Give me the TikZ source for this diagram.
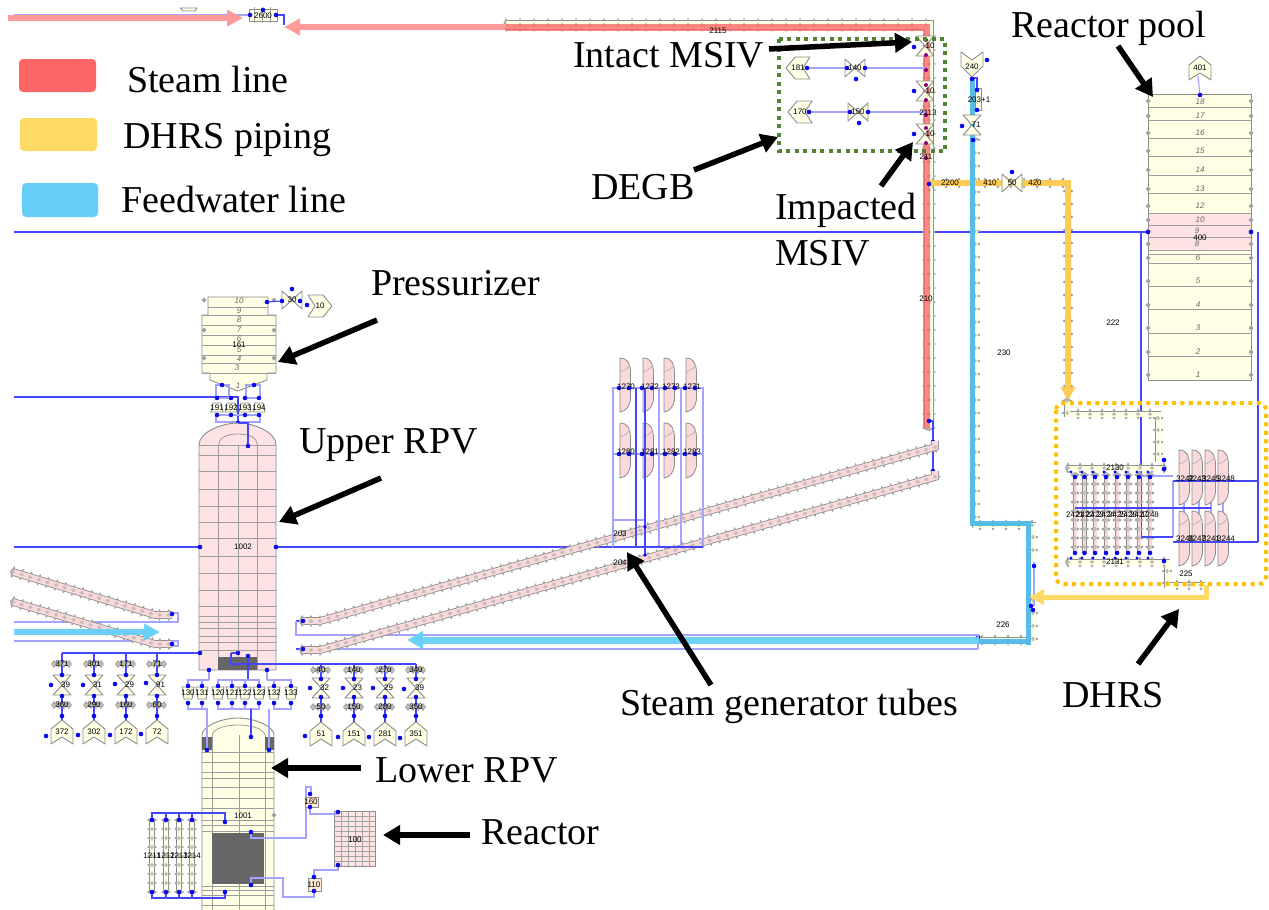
\documentclass[tikz,border=0pt]{standalone}
\usepackage{fontspec}
\setmainfont{Liberation Serif}
\newfontfamily\labfont{Liberation Sans}
\usetikzlibrary{arrows.meta,decorations.markings}
\definecolor{wirec}{HTML}{4646FF}
\definecolor{wirel}{HTML}{A4A4FF}
\definecolor{dotc}{HTML}{0A0AE8}
\definecolor{pg}{HTML}{8C8C8C}
\definecolor{dg}{HTML}{A0A0A0}
\definecolor{inner}{HTML}{C4C0B8}
\definecolor{cream}{HTML}{FFFFE6}
\definecolor{pinkf}{HTML}{FDE3E3}
\definecolor{pinkm}{HTML}{F9D9D9}
\definecolor{darkb}{HTML}{666666}
\definecolor{legred}{HTML}{FF6666}
\definecolor{legyel}{HTML}{FFD966}
\definecolor{legblu}{HTML}{66CFF8}
\definecolor{feedb}{HTML}{56BCE8}
\definecolor{arrpink}{HTML}{FF9A9A}
\definecolor{dgreen}{HTML}{548235}
\definecolor{dyel}{HTML}{FFC000}
\newcount\lc
\tikzset{
 wire/.style={draw=wirec,line width=1.1pt},
 wirethin/.style={draw=wirel,line width=1.1pt},
 wirebold/.style={draw=wirec,line width=1.5pt},
 lab/.style={font=\labfont\fontsize{8}{8}\selectfont,text=black,inner sep=0pt},
 rowlab/.style={font=\labfont\itshape\fontsize{8}{8}\selectfont,text=black!60,inner sep=0pt},
 eqp/.style={draw=pg,fill=cream,line width=0.9pt,line join=round},
 grid/.style={draw=pg!85,line width=0.8pt},
 leg/.style={rounded corners=4pt,draw=none},
 big/.style={font=\fontsize{38}{40}\selectfont,inner sep=0pt,anchor=base west},
 blk/.style={draw=black,line width=5.5pt,-{Triangle[length=17pt,width=19pt]}},
 mk/.style 2 args={postaction={decorate,decoration={markings,mark=between positions 0 and 1 step #1 with {\fill[dg] (-3,0)--(0,-#2)--(3,0)--(0,#2)--cycle;}}}},
 tk/.style={postaction={decorate,decoration={markings,mark=between positions 0 and 1 step #1 with {\fill[inner] (-2.4,0)--(0,-2)--(2.4,0)--(0,2)--cycle;}}}},
}
\newcommand{\lb}[3]{\global\advance\lc by 1 \node[lab] (l\the\lc) at (#1,#2) {#3};}
\newcommand{\rl}[3]{\global\advance\lc by 1 \node[rowlab] (l\the\lc) at (#1,#2) {#3};}
\newcommand{\dts}[1]{\foreach \p/\q in {#1}{\fill[dotc] (\p,\q) circle (2.3pt);}}
\newcommand{\pipe}[4][12pt]{%
 \pgfmathsetmacro{\hh}{#2/2+3.2}%
 \draw[mk={#1}{\hh},line width={#2pt+1.6pt},pg] #4;
 \draw[tk=#1,line width=#2pt,#3] #4;}
\newcommand{\chev}[4]{\filldraw[eqp,shift={(#1,#2)},rotate=#3] (0,-12)--(11,-3)--(11,12)--(0,5)--(-11,12)--(-11,-3)--cycle; \lb{#1}{#2}{#4}}
\newcommand{\valv}[4]{\filldraw[eqp,shift={(#1,#2)},rotate=#3] (-9,-10)--(9,-10)--(0,0)--(9,10)--(-9,10)--(0,0)--cycle; \lb{#1}{#2}{#4}}
\newcommand{\leaf}[4]{\filldraw[draw=pg,fill=pinkm,line width=0.8pt] (#1,#2) .. controls (#1+8,#2) and (#1+10,#2+6) .. (#1+10.5,#2+14) -- (#1+10.5,#2+#4-12) .. controls (#1+9,#2+#4-5) and (#1+6,#2+#4-1) .. (#1,#2+#4) -- cycle;
 \draw[draw=pg!70,line width=0.6pt] (#1,#2+14) .. controls (#1+4,#2+13) and (#1+8,#2+10) .. (#1+10,#2+7);}
\newcommand{\tri}[3]{\filldraw[eqp,shift={(#1,#2)}] (-6,-6)--(6,-6)--(4,6)--(-4,6)--cycle; \lb{#1}{#2}{#3}}
\newcommand{\blob}[3]{\pipe[5pt]{1.5}{dg}{(#1-8,#2)--(#1+8,#2)} \lb{#1}{#2}{#3}}
\begin{document}
\begin{tikzpicture}[x=1pt,y=-1pt]
\useasboundingbox (0,0) rectangle (1269,910);
\fill[white] (0,0) rectangle (1269,910);

% ---------- long wires
\draw[wire] (14,232)--(1252,232);
\draw[wire] (14,397)--(238,397)--(238,423);
\draw[wire] (14,547)--(199,547);
\draw[wire] (276,547)--(613,547);
\draw[wirethin] (14,15)--(250,15);
\draw[wire] (277,15)--(284,15)--(284,25);

% ---------- steam line and header
\pipe[14pt]{8}{cream}{(506,25)--(929,25)--(929,428)}
\draw[line width=7pt,legred,opacity=.78] (506,27)--(926,27)--(926,428);
\draw[-{Triangle[length=16pt,width=16pt]},line width=6pt,arrpink] (505,27)--(284,27);
\draw[-{Triangle[length=16pt,width=16pt]},line width=6pt,arrpink] (8,18)--(243,18);
\draw[wire] (929,421)--(933,421)--(933,472);
\dts{929/421,933/442,933/471}
\filldraw[eqp] (249,9) rectangle (277,21);
\foreach \u in {254,262,270}{\fill[dg] (\u,7) rectangle (\u+1,23);}
\lb{263}{15.5}{2600}
\dts{250/15,276/15,263/10}
\filldraw[eqp] (180,8)--(197,8)--(195,11)--(183,11)--cycle;
\lb{718}{31}{2115}

% ---------- MSIV region
\draw[wirethin] (807,68)--(925,68);
\draw[wirethin] (809,112)--(925,112);
\chev{798}{68}{90}{181}
\chev{800}{112}{90}{170}
\valv{855}{68}{90}{140}
\valv{858}{112}{90}{150}
\dts{807/68,847/68,865/68,856/79,809/112,850/112,868/112,859/123}
\valv{925}{46}{0}{\hspace{10pt}10}
\valv{925}{91}{0}{\hspace{10pt}10}
\valv{925}{134}{0}{\hspace{10pt}10}
\dts{914/47,914/91,914/134}
\foreach \u in {40,55,70,85,100,115,128,143,158}{\fill[purple!70!blue] (926,\u) circle (2pt);}
\lb{928}{113}{2113}
\lb{926}{157}{211}
\lb{926}{299}{210}
\draw[dgreen,line width=4pt,dash pattern=on 4pt off 4.5pt] (779,39) rectangle (945,151);

% ---------- feedwater
\draw[eqp] (961,52)--(972,60)--(983,52)--(983,66)--(972,77)--(961,66)--cycle;
\lb{972}{67}{240}
\pipe[13pt]{5}{cream}{(975,140)--(975,525)--(1033,525)--(1033,562)}
\pipe[13pt]{5}{cream}{(1033,600)--(1033,640)--(975,640)}
\draw[line width=5pt,feedb] (972,78)--(972,523)--(1028,523)--(1028,645);
\draw[wirethin] (1034,562)--(1034,606);
\draw[line width=5pt,feedb] (1031,641)--(978,641);
\draw[wire] (972,78)--(977,78)--(977,110);
\filldraw[eqp] (975,88) rectangle (981,110);
\valv{972}{125}{0}{\hspace{8pt}71}
\lb{979}{100}{203+1}
\dts{972/79,977/90,977/110,962/126,973/140,987/60,1034/566,1031/606,1033/610,978/637}
\lb{1004}{353}{230}
\lb{1003}{625}{226}

% ---------- SG tubes right
\draw[wire] (296,621)--(303,621);
\draw[wirethin] (296,621)--(296,635)--(978,635)--(978,649);
\draw[wirethin] (296,649)--(978,649);
\draw[wire] (296,649)--(303,649);
\pipe[9pt]{6}{pinkm}{(302,621)--(320,621)--(935,447)--(935,441)}
\pipe[9pt]{6}{pinkm}{(302,650)--(320,650)--(935,477)--(935,471)}
\dts{303/621,303/649}
\draw[-{Triangle[length=16pt,width=17pt]},line width=7pt,legblu,opacity=.95] (979,640)--(407,640);

% ---------- SG tubes left
\draw[wirethin] (14,622)--(178,622)--(178,613)--(172,613);
\draw[wirethin] (14,641)--(178,641)--(178,646)--(172,646);
\pipe[9pt]{6}{pinkm}{(13,572)--(155,615)--(172,615)}
\pipe[9pt]{6}{pinkm}{(13,602)--(155,644)--(172,644)}
\dts{172/614,172/644}
\draw[-{Triangle[length=16pt,width=16pt]},line width=6pt,legblu,opacity=.95] (14,632)--(160,632);

% ---------- SG modules
\foreach \u in {620,643,664,686}{\leaf{\u}{358}{30}{54}\leaf{\u}{423}{30}{55}}
\draw[wirethin] (613,388)--(703,388)--(703,547)--(613,547)--cycle;
\draw[wirethin] (613,454)--(703,454);
\foreach \u in {613,659,681,703}{\draw[wirethin] (\u,388)--(\u,547);}
\draw[wirethin] (613,520)--(645,520);
\draw[wire] (636,388)--(636,547);
\draw[wire] (645,388)--(645,555);
\draw[wire] (613,547)--(703,547);
\dts{619/388,629/388,642/388,652/388,665/388,675/388,685/388,695/388,619/454,629/454,642/454,652/454,665/454,675/454,685/454,695/454}
\fill[dotc] (645,527) circle (1.8pt);\fill[dotc] (645,555) circle (1.8pt);
\lb{626}{387}{1270}\lb{650}{387}{1272}\lb{671}{387}{1273}\lb{692}{387}{1271}
\lb{626}{452}{1280}\lb{650}{452}{1281}\lb{671}{452}{1282}\lb{692}{452}{1283}
\lb{620}{534}{203}\lb{620}{563}{204}

% ---------- DHRS supply
\pipe[13pt]{5}{cream}{(933,183)--(1068,183)--(1068,395)}
\draw[line width=6pt,legyel!85!orange] (930,183)--(1068,183);
\draw[-{Triangle[length=14pt,width=14pt]},line width=6pt,legyel!85!orange] (1068,180)--(1068,401);
\draw[line width=5pt,feedb] (972,165)--(972,200);
\valv{1012}{183}{90}{50}
\dts{1012/172,929/184}
\lb{950}{183}{2200}\lb{990}{183}{410}\lb{1035}{183}{420}

% ---------- reactor pool
\chev{1200}{68}{0}{401}
\draw[wirethin] (1198,76)--(1200,95);
\filldraw[eqp,fill=cream] (1148,94) rectangle (1251,380);
\fill[pinkf] (1148,213) rectangle (1251,250);
\draw[pg,line width=1pt] (1148,94) rectangle (1251,380);
\foreach \u in {107,120,138,156,175,193,213,225,237,250,254,263,286,309,333,356}{\draw[grid] (1148,\u)--(1251,\u);}
\foreach \u in {101,116,133,151,170,189,206,220,231,244,258,281,305,328,352,375}{\foreach \s in {1148,1251}{\fill[dg] (\s-2.5,\u)--(\s,\u-2.5)--(\s+2.5,\u)--(\s,\u+2.5)--cycle;}}
\rl{1200}{102}{18}\rl{1200}{116}{17}\rl{1200}{133}{16}\rl{1200}{151}{15}\rl{1200}{170}{14}\rl{1200}{189}{13}\rl{1200}{206}{12}\rl{1200}{220}{10}\rl{1197}{231}{9}\rl{1197}{244}{8}\rl{1198}{258}{6}\rl{1198}{281}{5}\rl{1198}{305}{4}\rl{1198}{328}{3}\rl{1198}{352}{2}\rl{1198}{375}{1}
\lb{1200}{238}{400}
\dts{1200/95,1148/232,1251/232}
\draw[wire] (1141,232)--(1141,537);
\draw[wire] (1258,232)--(1258,542);
\lb{1113}{323}{222}

% ---------- DHRS heat exchanger
\draw[wirethin] (1141,476)--(1173,476);
\draw[wirethin] (1173,481)--(1173,537);
\foreach \u in {1184,1199,1211,1223}{\draw[wirethin] (\u,481)--(\u,537);}
\pipe{5}{cream}{(1067,401)--(1067,414)--(1158,414)--(1158,462)}
\pipe{5}{cream}{(1068,468)--(1165,468)}
\pipe{5}{cream}{(1068,562)--(1167,562)--(1167,585)--(1205,585)}
\foreach \u in {1075,1084.5,1095,1106,1117,1128,1139,1150}{\pipe[9pt]{3}{pinkm}{(\u,475)--(\u,553)}}
\foreach \u in {1179,1192,1205,1218}{\leaf{\u}{450}{30}{55}\leaf{\u}{511}{30}{55}}
\draw[wire] (1141,537)--(1173,537);
\draw[wire] (1173,481)--(1258,481);
\draw[wire] (1173,542)--(1258,542);
\draw[wire] (1075,508)--(1211,508);
\dts{1075/477,1084.5/477,1095/477,1106/477,1117/477,1128/477,1139/477,1150/477,1075/553,1084.5/553,1095/553,1106/553,1117/553,1128/553,1139/553,1150/553,1164/460,1164/469,1164/561}
\foreach \u in {1071,1082,1093,1104,1115,1126,1137,1148}{\fill[dotc] (\u,472) circle (1.6pt);\fill[dotc] (\u,558) circle (1.6pt);}
\lb{1075}{515}{2421}\lb{1085}{515}{2422}\lb{1095}{515}{2423}\lb{1106}{515}{2424}\lb{1117}{515}{2425}\lb{1128}{515}{2426}\lb{1139}{515}{2427}\lb{1150}{515}{1248}
\lb{1115}{468}{2130}\lb{1115}{562}{2131}
\lb{1185}{479}{3242}\lb{1197}{479}{3243}\lb{1211}{479}{3245}\lb{1226}{479}{3248}
\lb{1185}{539}{3246}\lb{1197}{539}{3247}\lb{1211}{539}{3241}\lb{1226}{539}{3244}
\lb{1186}{574}{225}
\draw[-{Triangle[length=15pt,width=15pt]},line width=5pt,legyel] (1206,585)--(1206,597)--(1029,597);
\draw[dyel,line width=4pt,dash pattern=on 4pt off 4.5pt,rounded corners=7pt] (1056,403) rectangle (1266,584);

% ---------- pressurizer
\filldraw[eqp] (208,297)--(268,297)--(268,315)--(276,315)--(276,373)--(267,373)--(267,380)--(238,391)--(210,380)--(210,373)--(202,373)--(202,315)--(208,315)--cycle;
\foreach \u in {307}{\draw[grid] (208,\u)--(268,\u);}
\foreach \u in {315,325,335,345,355,363,373}{\draw[grid] (202,\u)--(276,\u);}
\rl{239}{301}{10}\rl{239}{311}{9}\rl{239}{320}{8}\rl{239}{330}{7}\rl{239}{339}{6}\rl{239}{350}{5}\rl{239}{359}{4}\rl{237}{368}{3}\rl{238}{386}{1}
\lb{239}{345}{161}
\foreach \u in {300,330,358}{\foreach \s in {204,274}{\fill[dg] (\s-2.5,\u)--(\s,\u-2.5)--(\s+2.5,\u)--(\s,\u+2.5)--cycle;}}
\draw[wire] (267,302)--(282,301);
\valv{292}{300}{90}{30}
\chev{320}{306}{-90}{10}
\dts{267/302,282/301,292/289,300/301,307/305}
\draw[wirethin] (216,385) rectangle (229,398);
\draw[wirethin] (246,385) rectangle (260,398);
\draw[wirethin] (216,415) rectangle (260,422);
\foreach \u/\w in {217/191,231/192,245/193,259/194}{\filldraw[eqp,shift={(\u,408)}] (-6,4)--(6,4)--(4,-5)--(-4,-5)--cycle; \lb{\u}{408}{\w}}
\dts{222/385,254/385,217/398,231/398,245/398,259/398,217/415,231/415,245/415,259/415,238/423}

% ---------- upper RPV
\filldraw[eqp,fill=pinkf] (199,670)--(199,445) .. controls (199,432) and (222,423) .. (238,423) .. controls (254,423) and (276,432) .. (276,445)--(276,670)--cycle;
\foreach \u in {445,455,471,489,506,522,538,556,573,590,606,616,622,628,636,642,650}{\draw[grid] (199,\u)--(276,\u);}
\foreach \u in {218.5,238.5,257.5}{\draw[grid] (\u,445)--(\u,670);}
\draw[grid] (218.5,445) .. controls (219,438) and (226,434) .. (238,434) .. controls (250,434) and (257,438) .. (257.5,445);
\fill[darkb] (218,657) rectangle (257,670);
\draw[wire] (238,423)--(248,423)--(248,446);
\lb{243}{547}{1002}
\dts{248/446,200/547,276/547}

% ---------- lower RPV
\filldraw[eqp] (202,910)--(202,735) .. controls (202,726) and (222,718) .. (238,718) .. controls (254,718) and (274,726) .. (274,735)--(274,910);
\foreach \u in {752,762,772,778,787,798,808,820,825,831,886,890,895,905}{\draw[grid] (202,\u)--(274,\u);}
\foreach \u in {212,239,265}{\draw[grid] (\u,735)--(\u,910);}
\draw[grid] (212,735) .. controls (214,728) and (226,725) .. (238,725) .. controls (250,725) and (263,728) .. (265,735);
\fill[darkb] (202,737) rectangle (212,750);
\fill[darkb] (265,737) rectangle (274,750);
\fill[darkb] (212,833) rectangle (264,884);
\lb{243}{816}{1001}
\fill[dg] (271.5,815)--(274,812.5)--(276.5,815)--(274,817.5)--cycle;

% ---------- manifolds around RPV
\draw[wirebold] (62,653)--(200,653);
\draw[wirebold] (231,653)--(238,653);
\draw[wirebold] (231,653)--(231,664)--(416,664);
\draw[wire] (248,656)--(248,680);
\foreach \u/\w in {188/130,202/131,218/120,232/121,245/122,259/123,274/132,291/133}{\tri{\u}{693}{\w}}
\draw[wirethin] (188,686)--(188,680)--(202,680)--(202,686);
\draw[wirethin] (209,670)--(209,680);
\draw[wirethin] (202,680)--(209,680);
\draw[wirethin] (218,686)--(218,680)--(259,680)--(259,686);
\draw[wirethin] (232,680)--(232,686)(245,680)--(245,686);
\draw[wirethin] (267,670)--(267,680);
\draw[wirethin] (267,680)--(291,680)--(291,686);
\draw[wirethin] (274,680)--(274,686);
\draw[wirethin] (188,703)--(188,709)--(207,709)--(207,750);
\draw[wirethin] (202,703)--(202,709);
\draw[wirethin] (218,703)--(218,709)--(259,709)--(259,703);
\draw[wirethin] (232,703)--(232,709)(245,703)--(245,709);
\draw[wire] (251,709)--(251,737);
\draw[wirethin] (274,703)--(274,709)--(291,709)--(291,703);
\draw[wirethin] (269,709)--(269,750);
\dts{188/686,202/686,218/686,232/686,245/686,259/686,274/686,291/686,188/703,202/703,218/703,232/703,245/703,259/703,274/703,291/703,207/750,251/737,269/750,209/670,267/670,248/656,238/653,200/653}

% ---------- valve columns left
\foreach \u/\v/\c/\t/\b in {62/372/39/371/360,94/302/31/301/290,126/172/29/171/160,157/72/91/71/60}{
 \draw[wire] (\u,653)--(\u,720);
 \blob{\u}{664}{\t}
 \blob{\u}{705}{\b}
 \valv{\u}{685}{0}{\hspace{7pt}\c}
 \chev{\u}{732}{0}{\v}
 \dts{\u/675,\u/696,\u/716}
}
\dts{51/685,83/685,115/684,146/683,46/736,78/735,110/735,141/734}
% ---------- valve columns right
\foreach \u/\v/\c/\t/\b in {321/51/32/40/50,354/151/23/140/150,385/281/29/270/280,416/351/39/340/350}{
 \draw[wire] (\u,664)--(\u,722);
 \blob{\u}{670}{\t}
 \blob{\u}{707}{\b}
 \valv{\u}{688}{0}{\hspace{7pt}\c}
 \chev{\u}{734}{0}{\v}
 \dts{\u/679,\u/697,\u/716}
}
\dts{310/688,343/688,373/688,404/689,305/736,338/737,369/737,400/738}

% ---------- core side tubes
\foreach \u in {152,166,179,192}{\pipe[9pt]{3.5}{cream}{(\u,820)--(\u,892)}}
\draw[wirebold] (152,820)--(152,813)--(225,813)--(225,822);
\draw[wire] (166,813)--(166,820)(179,813)--(179,820)(192,813)--(192,820);
\draw[wirebold] (152,892)--(152,898)--(225,898)--(225,892);
\draw[wire] (166,898)--(166,892)(179,898)--(179,892)(192,898)--(192,892);
\dts{152/820,166/820,179/820,192/820,152/892,166/892,179/892,192/892,225/822,225/892}
\lb{152}{856}{1211}\lb{166}{856}{1212}\lb{179}{856}{1213}\lb{192}{856}{1214}

% ---------- reactor
\filldraw[draw=pg,fill=pinkf,line width=1pt] (334,811) rectangle (375,866);
\foreach \u in {341,348,355,362,369}{\draw[draw=pg!80,line width=.6pt] (\u,811)--(\u,866);}
\foreach \u in {816,821,826,831,836,841,846,851,856,861}{\draw[draw=pg!80,line width=.6pt] (334,\u)--(375,\u);}
\lb{355}{840}{100}
\draw[wirethin] (251,832)--(251,838)--(306,838)--(306,787)--(311,787)--(311,794);
\draw[wirethin] (310,807)--(310,814)--(338,814);
\draw[wirethin] (338,865)--(338,870)--(314,870)--(314,877);
\draw[wirethin] (314,891)--(314,897)--(283,897)--(283,878)--(251,878)--(251,885);
\filldraw[eqp,fill=cream!60!orange!40] (305,797) rectangle (318,807);
\lb{311}{802}{160}
\filldraw[eqp,fill=cream!60!orange!40] (308,878) rectangle (321,891);
\lb{314}{885}{110}
\dts{251/832,251/885,310/794,310/807,338/812,338/865,314/877,314/891}

% ---------- legend
\fill[leg,legred] (19,59) rectangle (96,92);
\fill[leg,legyel] (20,118) rectangle (97,151);
\fill[leg,legblu] (22,183) rectangle (98,217);
\node[big] (tSteam) at (127,92) {Steam line};
\node[big] (tDhrsP) at (123,148) {DHRS piping};
\node[big] (tFeed) at (121,212) {Feedwater line};

% ---------- callouts
\node[big] (tPool) at (1011,37) {Reactor pool};
\node[big] (tIntact) at (573,67) {Intact MSIV};
\node[big] (tDegb) at (591,199) {DEGB};
\node[big] (tImp) at (775,219) {Impacted};
\node[big] (tMsiv) at (775,265) {MSIV};
\node[big] (tPress) at (371,295) {Pressurizer};
\node[big] (tUp) at (299,453) {Upper RPV};
\node[big] (tSg) at (620,715) {Steam generator tubes};
\node[big] (tDh) at (1062,707) {DHRS};
\node[big] (tLow) at (375,782) {Lower RPV};
\node[big] (tRe) at (481,844) {Reactor};

\coordinate (a1s) at (1118,46);\coordinate (a1e) at (1153,97);
\coordinate (a2s) at (769,49);\coordinate (a2e) at (912,42);
\coordinate (a3s) at (694,170);\coordinate (a3e) at (778,137);
\coordinate (a4s) at (881,186);\coordinate (a4e) at (913,142);
\coordinate (a5s) at (377,320);\coordinate (a5e) at (278,362);
\coordinate (a6s) at (381,478);\coordinate (a6e) at (279,522);
\coordinate (a7s) at (711,685);\coordinate (a7e) at (627,552);
\coordinate (a8s) at (1138,664);\coordinate (a8e) at (1179,609);
\coordinate (a9s) at (361,768);\coordinate (a9e) at (271,768);
\coordinate (a10s) at (470,835);\coordinate (a10e) at (383,835);
\foreach \n in {1,...,10}{\draw[blk] (a\n s)--(a\n e);}
\end{tikzpicture}
\end{document}
